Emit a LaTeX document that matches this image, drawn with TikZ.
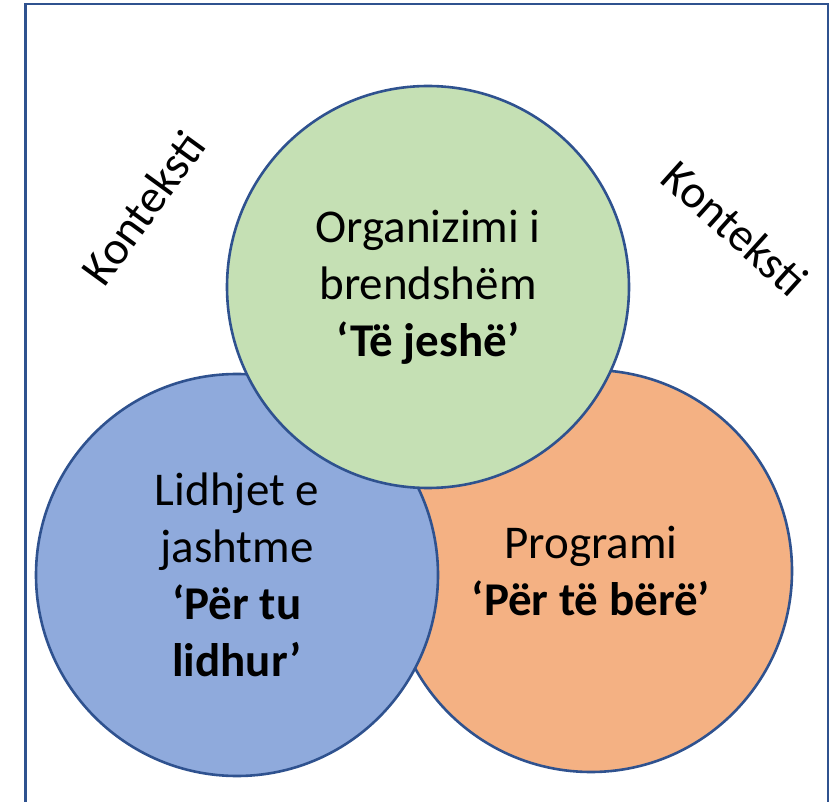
\documentclass[tikz,border=0pt]{standalone}
\usepackage{fontspec}
\setmainfont{Carlito}
\usetikzlibrary{positioning}
\definecolor{edgeblue}{HTML}{2F528F}
\definecolor{fillg}{HTML}{C5E0B4}
\definecolor{fillb}{HTML}{8FAADC}
\definecolor{fillo}{HTML}{F4B183}
\tikzset{
    circ/.style = {circle, line width=2.6pt, draw=edgeblue, minimum size=402pt, inner sep=0pt, align=center},
    circg/.style = {circ, fill=fillg},
    circb/.style = {circ, fill=fillb},
    circo/.style = {circ, fill=fillo},
    ctx/.style = {inner sep=0pt},
    frame/.style = {line width=2.8pt, draw=edgeblue},
    every picture/.style={font issue=\fontsize{47}{57}},
    font issue/.style={execute at begin picture={#1\selectfont}
  }
}
\newcommand{\Bf}[1]{\textbf{#1}}

\begin{document}
\begin{tikzpicture}[x=1pt,y=-1pt]
\useasboundingbox (0,0) rectangle (836,802);
\clip (0,0) rectangle (836,802);
\draw[frame] (25.5,4) rectangle (828,830);
%
\node[circo] (o) at (591,571) {Programi\\\Bf{‘Për të bërë’}};
\node[circb] (b) at (237,575) {Lidhjet e\\jashtme\\\Bf{‘Për tu}\\\Bf{lidhur’}};
\node[circg] (g) at (428,287) {Organizimi i\\brendshëm\\\Bf{‘Të jeshë’}};
%
\node[ctx, rotate=54] (k1) at (143,208) {Konteksti};
\node[ctx, rotate=-42] (k2) at (735,228) {Konteksti};
\end{tikzpicture}
\end{document}
